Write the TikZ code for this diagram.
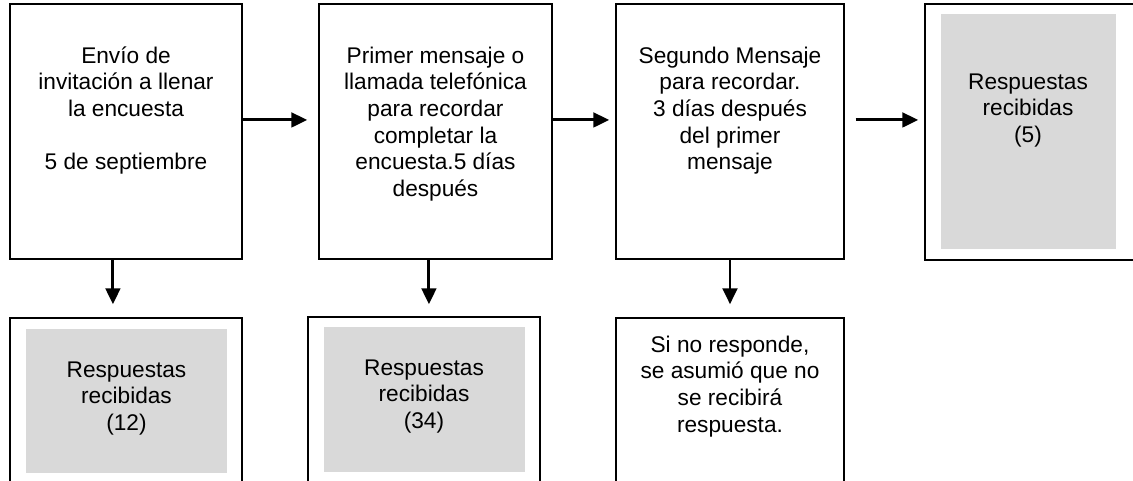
\documentclass[tikz,border=0pt]{standalone}
\usepackage{fontspec}
\setmainfont{Liberation Sans}
\usetikzlibrary{fit,calc,arrows.meta}
\definecolor{boxgray}{HTML}{D9D9D9}
\begin{document}
\begin{tikzpicture}[x=0.75pt,y=-0.75pt,
  box/.style={draw=black, line width=1.1pt, inner sep=0pt, fill=white},
  shadebox/.style={fill=boxgray, draw=none, inner sep=0pt},
  txt/.style={align=center, inner sep=0pt, font=\fontsize{17}{20}\selectfont},
  arr/.style={line width=2.2pt, -{Triangle[length=12pt,width=11pt]}}]
\clip (0,0) rectangle (1133,481);
\fill[white] (0,0) rectangle (1133,481);
% top row
\node[box, fit={(10,4) (242,259)}] (b1) {};
\node[box, fit={(319,4) (552,259)}] (b2) {};
\node[box, fit={(616,4) (844,259)}] (b3) {};
\node[box, fit={(925,4) (1150,260)}] (b4) {};
\node[shadebox, fit={(941,14) (1116,249)}] (g4) {};
% bottom row
\node[box, fit={(10,318) (242,500)}] (b5) {};
\node[shadebox, fit={(26,329) (227,473)}] (g5) {};
\node[box, fit={(308,317) (540,500)}] (b6) {};
\node[shadebox, fit={(324,327) (525,472)}] (g6) {};
\node[box, fit={(616,318) (844,500)}] (b7) {};
% texts (anchor base = baseline of last line)
\node[txt, anchor=base] (t1) at (126,170) {Envío de\\invitación a llenar\\la encuesta\\[20pt]5 de septiembre};
\node[txt, anchor=base] (t2) at (435.5,196.5) {Primer mensaje o\\llamada telefónica\\para recordar\\completar la\\encuesta.5 días\\después};
\node[txt, anchor=base] (t3) at (730,170) {Segundo Mensaje\\para recordar.\\3 días después\\del primer\\mensaje};
\node[txt, anchor=base] (t4) at (1028,142.5) {Respuestas\\recibidas\\(5)};
\node[txt, anchor=base] (t5) at (126.5,430.5) {Respuestas\\recibidas\\(12)};
\node[txt, anchor=base] (t6) at (424,428.5) {Respuestas\\recibidas\\(34)};
\node[txt, anchor=base] (t7) at (730,432) {Si no responde,\\se asumió que no\\se recibirá\\respuesta.};
% horizontal arrows
\draw[arr, shorten >=8.25pt] ($(b1.north east)!0.455!(b1.south east)$) coordinate (h1) -- (h1 -| b2.west);
\draw[arr, shorten >=4.5pt] ($(b2.north east)!0.455!(b2.south east)$) coordinate (h2) -- (h2 -| b3.west);
\draw[arr, shorten <=8.25pt, shorten >=4.5pt] ($(b3.north east)!0.455!(b3.south east)$) coordinate (h3) -- (h3 -| b4.west);
% vertical arrows
\draw[arr, shorten >=9.75pt] ($(b1.south west)!0.444!(b1.south east)$) coordinate (v1) -- (v1 |- b5.north);
\draw[arr, shorten >=9pt] ($(b2.south west)!0.472!(b2.south east)$) coordinate (v2) -- (v2 |- b6.north);
\draw[arr, shorten >=9.75pt] ($(b3.south west)!0.5!(b3.south east)$) coordinate (v3) -- (v3 |- b7.north);
\end{tikzpicture}
\end{document}
